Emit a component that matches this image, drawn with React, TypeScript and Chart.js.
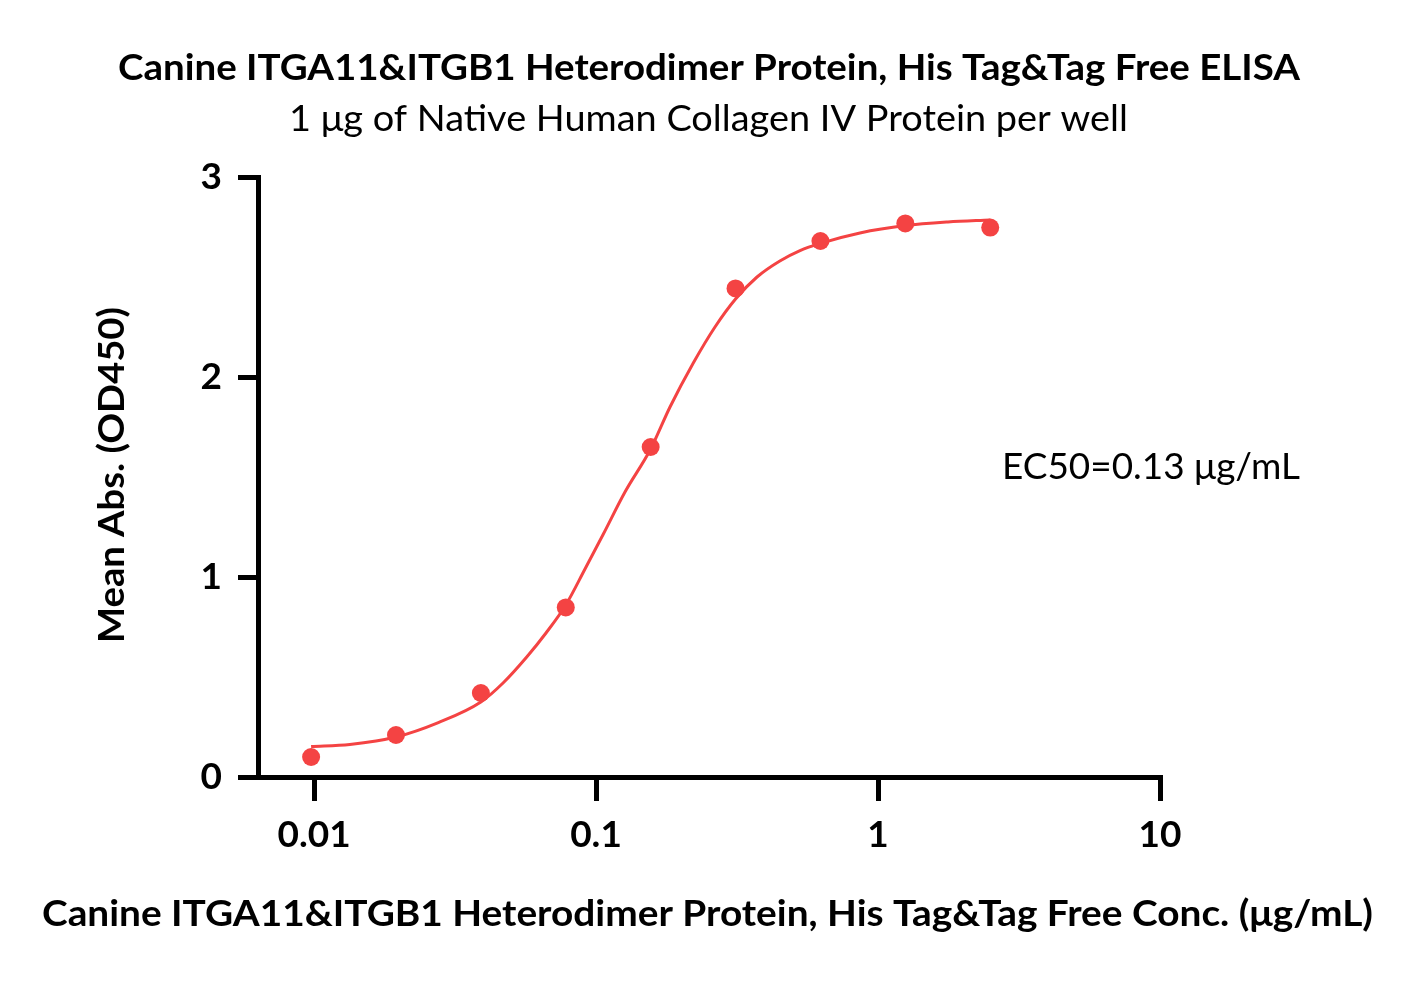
import React, { useEffect, useRef } from "react";
import { Chart, registerables } from "chart.js";

Chart.register(...registerables);

// ---- Data ----
const concentrations = [0.009766, 0.01953, 0.03906, 0.078125, 0.15625, 0.3125, 0.625, 1.25, 2.5];
const meanAbs = [0.10, 0.21, 0.42, 0.848, 1.65, 2.443, 2.68, 2.768, 2.747];

// fitted curve
const fitConc = [0.009766, 0.0134, 0.01953, 0.0276, 0.03906, 0.04681, 0.0568, 0.06648, 0.078125, 0.09141, 0.1062, 0.1267, 0.15625, 0.183, 0.2213, 0.2642, 0.3125, 0.3724, 0.4487, 0.529, 0.625, 0.863, 1.25, 1.77, 2.5];
const fitAbs = [0.152, 0.163, 0.20, 0.272, 0.375, 0.47, 0.60, 0.72, 0.86, 1.04, 1.215, 1.425, 1.64, 1.85, 2.07, 2.25, 2.39, 2.50, 2.58, 2.632, 2.668, 2.72, 2.757, 2.775, 2.785];

const xTickValues = [0.01, 0.1, 1, 10];
const xTickLabels = ["0.01", "0.1", "1", "10"];
const yTickValues = [0, 1, 2, 3];

const titleText = "Canine ITGA11&ITGB1 Heterodimer Protein, His Tag&Tag Free ELISA";
const subtitleText = "1 μg of Native Human Collagen IV Protein per well";
const xTitleText = "Canine ITGA11&ITGB1 Heterodimer Protein, His Tag&Tag Free Conc. (μg/mL)";
const yTitleText = "Mean Abs. (OD450)";
const ec50Text = "EC50=0.13 μg/mL";

const RED = "#F44343";
const FONT = "Lato, 'Open Sans', sans-serif";

type TextItem = { text: string; cx: number; cy: number; width: number; weight: string; size: number; rotate?: boolean };

const textItems: TextItem[] = [
  { text: titleText, cx: 709, cy: 68, width: 1182, weight: "bold", size: 36 },
  { text: subtitleText, cx: 708.5, cy: 119, width: 839, weight: "normal", size: 36 },
  { text: ec50Text, cx: 1151, cy: 467, width: 298, weight: "normal", size: 36 },
  { text: xTitleText, cx: 707.5, cy: 914, width: 1331, weight: "bold", size: 36 },
  { text: yTitleText, cx: 112, cy: 475, width: 336, weight: "bold", size: 36, rotate: true },
];

const textPlugin = {
  id: "texts",
  afterDraw(chart: any) {
    const ctx = chart.ctx as CanvasRenderingContext2D;
    for (const t of textItems) {
      ctx.save();
      ctx.font = `${t.weight} ${t.size}px ${FONT}`;
      ctx.fillStyle = "#000";
      ctx.textAlign = "center";
      ctx.textBaseline = "middle";
      const w = ctx.measureText(t.text).width;
      const sx = t.width / w;
      ctx.translate(t.cx, t.cy);
      if (t.rotate) ctx.rotate(-Math.PI / 2);
      ctx.scale(sx, 1);
      ctx.fillText(t.text, 0, 0);
      ctx.restore();
    }
  },
};

export default function App() {
  const ref = useRef<HTMLCanvasElement | null>(null);
  useEffect(() => {
    if (!ref.current) return;
    const chart = new Chart(ref.current, {
      type: "scatter",
      data: {
        datasets: [
          {
            label: "Mean Abs.",
            data: concentrations.map((c, i) => ({ x: c, y: meanAbs[i] })),
            backgroundColor: RED,
            borderColor: RED,
            pointRadius: 9,
            pointBorderWidth: 0,
            pointHoverRadius: 9,
            clip: false as any,
          },
          {
            label: "Fit",
            data: fitConc.map((c, i) => ({ x: c, y: fitAbs[i] })),
            showLine: true,
            borderColor: RED,
            borderWidth: 3,
            pointRadius: 0,
            cubicInterpolationMode: "monotone",
            fill: false,
          } as any,
        ],
      },
      plugins: [textPlugin],
      options: {
        animation: false,
        responsive: false,
        devicePixelRatio: 1,
        layout: { padding: { left: 0, top: 177, right: 259, bottom: 0 } },
        plugins: { legend: { display: false }, tooltip: { enabled: false }, title: { display: false } },
        scales: {
          x: {
            type: "logarithmic",
            min: 0.00633,
            max: 10,
            afterBuildTicks: (axis: any) => {
              axis.ticks = xTickValues.map((v) => ({ value: v }));
            },
            afterFit: (axis: any) => {
              axis.height = 204;
            },
            ticks: {
              autoSkip: false,
              maxRotation: 0,
              padding: 12,
              color: "#000",
              font: { family: FONT, size: 37, weight: "bold" },
              callback: (v: any) => {
                const i = xTickValues.indexOf(Number(v));
                return i >= 0 ? xTickLabels[i] : "";
              },
            },
            grid: { display: true, drawOnChartArea: false, drawTicks: true, tickLength: 24, lineWidth: 5, color: "#000" },
            border: { display: true, width: 5, color: "#000" },
          },
          y: {
            type: "linear",
            min: 0,
            max: 3,
            afterBuildTicks: (axis: any) => {
              axis.ticks = yTickValues.map((v) => ({ value: v }));
            },
            afterFit: (axis: any) => {
              axis.width = 258;
            },
            ticks: {
              padding: 16,
              color: "#000",
              font: { family: FONT, size: 37, weight: "bold" },
              callback: (v: any) => String(v),
            },
            grid: { display: true, drawOnChartArea: false, drawTicks: true, tickLength: 20, lineWidth: 5, color: "#000" },
            border: { display: true, width: 5, color: "#000" },
          },
        },
      } as any,
    });
    return () => chart.destroy();
  }, []);
  return (
    <div style={{ position: "absolute", left: 0, top: 0, width: 1419, height: 981, background: "#fff" }}>
      <canvas ref={ref} width={1419} height={981} style={{ display: "block" }} />
    </div>
  );
}
